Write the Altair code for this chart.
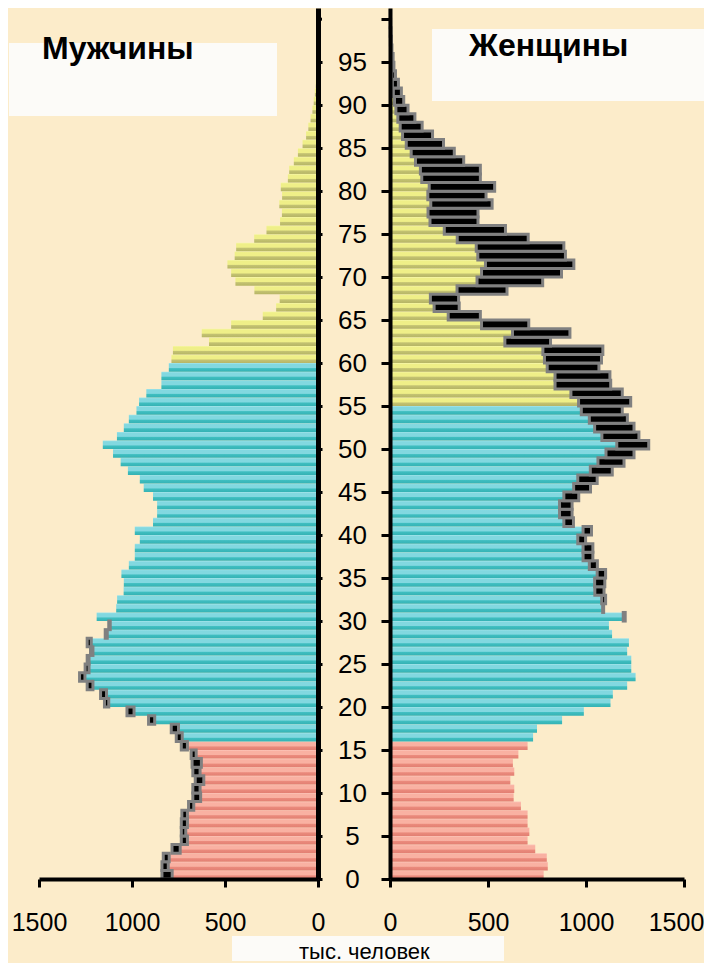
import altair as alt
import pandas as pd
import numpy as np

ages = list(range(0, 101))
men = [839, 839, 832, 785, 735, 735, 735, 732, 696, 673,
       673, 660, 673, 677, 682, 735, 762, 789, 911, 1027,
       1148, 1169, 1241, 1282, 1252, 1241, 1223, 1241, 1144, 1125,
       1190, 1085, 1080, 1045, 1044, 1057, 1017, 985, 985, 958,
       985, 887, 865, 865, 887, 937, 958, 1022, 1061, 1102,
       1157, 1081, 1044, 1017, 976, 962, 923, 842, 842, 802,
       788, 780, 586, 625, 467, 297, 225, 206, 342, 444,
       467, 487, 448, 440, 343, 277, 204, 194, 208, 193,
       200, 162, 155, 130, 108, 83, 64, 52, 40, 30,
       23, 17, 12, 9, 6, 4, 3, 2, 1, 1, 1]
women = [784, 805, 800, 741, 702, 711, 702, 702, 668, 631,
         634, 614, 634, 627, 655, 702, 730, 750, 878, 989,
         1125, 1137, 1210, 1253, 1231, 1231, 1210, 1219, 1133, 1117,
         1200, 1090, 1100, 1092, 1096, 1100, 1058, 1035, 1035, 998,
         1028, 936, 929, 929, 963, 1023, 1057, 1134, 1194, 1245,
         1320, 1270, 1245, 1211, 1185, 1228, 1185, 1126, 1122, 1066,
         1079, 1086, 819, 918, 708, 461, 353, 350, 597, 779,
         875, 938, 895, 887, 705, 589, 449, 449, 521, 490,
         534, 461, 461, 376, 328, 273, 217, 164, 127, 92,
         70, 58, 43, 28, 20, 16, 10, 7, 5, 3, 2]
age_labels = list(range(0, 96, 5))
age_ticks = list(range(0, 101, 5))
value_ticks = [0, 500, 1000, 1500]

BG = "#FCECCA"
BOX = "#FCFBF8"
FONT = "Liberation Sans, Arial, sans-serif"

df = pd.DataFrame({"age": ages, "men": men, "women": women})
df["age2"] = df["age"] + 1
df["low"] = df[["men", "women"]].min(axis=1)
df["m_group"] = np.where(df.age <= 15, "young", np.where(df.age <= 59, "work", "old"))
df["w_group"] = np.where(df.age <= 15, "young", np.where(df.age <= 54, "work", "old"))


def grad(top, light, dark, bottom):
    return {"gradient": "linear", "x1": 0, "y1": 0, "x2": 0, "y2": 1,
            "stops": [{"offset": 0, "color": top},
                      {"offset": 0.15, "color": light},
                      {"offset": 0.52, "color": light},
                      {"offset": 0.64, "color": dark},
                      {"offset": 1, "color": bottom}]}


GRADS = {
    "young": grad("#FCC6BA", "#F9B1A2", "#EA8A7C", "#E27F72"),
    "work": grad("#A6E5EA", "#82D8E0", "#3FBEC0", "#35B2B4"),
    "old": grad("#F7F7AA", "#EFEF88", "#C3C272", "#B6B565"),
}

y_dom = [0, 101.3]


def y_enc(orient, labels):
    ax = dict(orient=orient, domainColor="black", tickColor="black",
              tickWidth=3, grid=False, title=None, zindex=1)
    if labels:
        ax.update(values=age_labels, domainWidth=5, tickSize=4, labels=True,
                  labelFontSize=26, labelFont=FONT, labelColor="black",
                  labelAlign="center", labelPadding=30)
    else:
        ax.update(values=age_ticks, domainWidth=4, tickSize=9, labels=False)
    return alt.Y("age:Q", scale=alt.Scale(domain=y_dom, nice=False, zero=False),
                 axis=alt.Axis(**ax))


def x_axis(shift_last):
    kw = dict(values=value_ticks, format="d", domainColor="black", domainWidth=4,
              tickColor="black", tickWidth=3, tickSize=8, labelFontSize=25,
              labelFont=FONT, labelColor="black", labelPadding=23, grid=False,
              title=None, zindex=1, labelFlush=False, labelOverlap=False)
    if shift_last:
        kw["labelOffset"] = {"condition": {"test": "datum.value == 1500", "value": -8},
                             "value": 0}
    return alt.Axis(**kw)


def panel(side):
    rev = side == "left"
    gcol = "m_group" if rev else "w_group"
    xscale = alt.Scale(domain=[0, 1500], reverse=rev, nice=False, zero=False)
    xax = x_axis(not rev)
    yy = y_enc("right" if rev else "left", rev)
    layers = []
    for g, gr in GRADS.items():
        layers.append(
            alt.Chart(df).transform_filter(alt.datum[gcol] == g)
            .mark_rect(color=gr)
            .encode(x=alt.X("low:Q", scale=xscale, axis=xax), x2=alt.datum(0),
                    y=yy, y2="age2:Q")
        )
    big, small = ("men", "women") if rev else ("women", "men")
    layers.append(
        alt.Chart(df).transform_filter(alt.datum[big] > alt.datum[small])
        .mark_rect(color="black", stroke="#808080", strokeWidth=3)
        .encode(x=alt.X(f"{big}:Q", scale=xscale, axis=xax), x2=f"{small}:Q",
                y=yy, y2="age2:Q")
    )
    one = pd.DataFrame({"k": [0]})
    if rev:
        # tick for age 100 (no label)
        layers.append(alt.Chart(one).mark_rule(color="black", strokeWidth=3).encode(
            y=alt.datum(100), x=alt.value(279), x2=alt.value(283)))
        layers.append(alt.Chart(one).mark_rect(color=BOX).encode(
            x=alt.value(-30), x2=alt.value(238), y=alt.value(35), y2=alt.value(108)))
        layers.append(alt.Chart(one).mark_text(
            text="Мужчины", font=FONT, fontSize=32, fontWeight="bold", align="left",
            baseline="alphabetic", color="black").encode(x=alt.value(3), y=alt.value(51)))
        layers.append(alt.Chart(one).mark_rect(color=BOX).encode(
            x=alt.value(193), x2=alt.value(465), y=alt.value(928), y2=alt.value(953)))
        layers.append(alt.Chart(one).mark_text(
            text="тыс. человек", font=FONT, fontSize=22, align="left",
            baseline="alphabetic", color="black").encode(x=alt.value(260), y=alt.value(950.5)))
    else:
        layers.append(alt.Chart(one).mark_rect(color=BOX).encode(
            x=alt.value(42), x2=alt.value(314), y=alt.value(21), y2=alt.value(93)))
        layers.append(alt.Chart(one).mark_text(
            text="Женщины", font=FONT, fontSize=32, fontWeight="bold", align="left",
            baseline="alphabetic", color="black").encode(x=alt.value(79), y=alt.value(48)))
    return alt.layer(*layers).properties(width=279 if rev else 294, height=871)


chart = alt.hconcat(panel("left"), panel("right"), spacing=72, bounds="flush").properties(
    padding={"left": 1, "top": 0, "right": 0, "bottom": 0}, background=BG
).configure_view(strokeWidth=0)

chart.save("out.html", embed_options={"renderer": "svg", "actions": False})
